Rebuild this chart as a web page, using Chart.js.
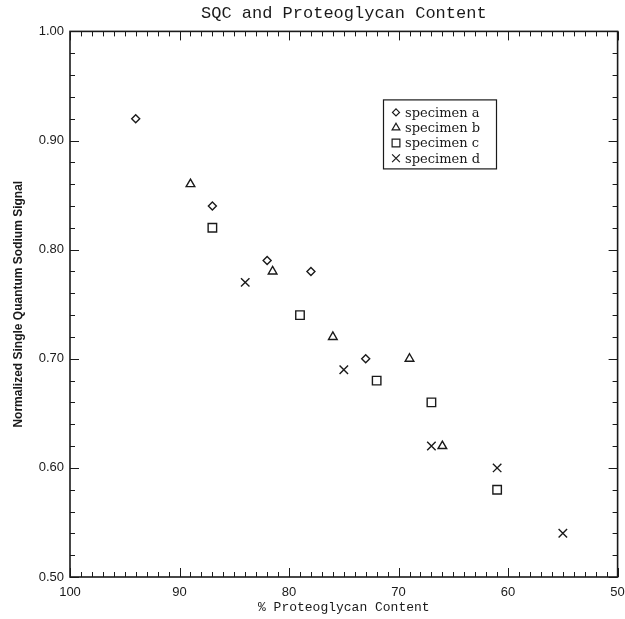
<!DOCTYPE html>
<html>
<head>
<meta charset="utf-8">
<script src="https://cdn.jsdelivr.net/npm/chart.js@4"></script>
<style>
  html, body { margin: 0; padding: 0; background: #fff; }
  #wrap { width: 625px; height: 619px; }
</style>
</head>
<body>
<div id="wrap"><canvas id="sqc" width="625" height="619"></canvas></div>
<script>
// Data: % proteoglycan content vs normalized SQ signal
const specimenA_x = [94, 87, 82, 78, 73];
const specimenA_y = [0.92, 0.84, 0.79, 0.78, 0.70];
const specimenB_x = [89, 81.5, 76, 69, 66];
const specimenB_y = [0.86, 0.78, 0.72, 0.70, 0.62];
const specimenC_x = [87, 79, 72, 67, 61];
const specimenC_y = [0.82, 0.74, 0.68, 0.66, 0.58];
const specimenD_x = [84, 75, 67, 61, 55];
const specimenD_y = [0.77, 0.69, 0.62, 0.60, 0.54];

const xTicks = [100, 90, 80, 70, 60, 50];
const yTicks = [0.50, 0.60, 0.70, 0.80, 0.90, 1.00];

const seriesNames = ['specimen a', 'specimen b', 'specimen c', 'specimen d'];

function toPoints(xs, ys) {
    return xs.map((v, i) => ({ x: v, y: ys[i] }));
}

const ink = '#1a1a1a';

function series(label, xs, ys, style, radius) {
    return {
        label: label,
        data: toPoints(xs, ys),
        pointStyle: style,
        pointRadius: radius,
        pointHoverRadius: radius,
        pointBorderWidth: 1.4,
        borderColor: ink,
        backgroundColor: 'rgba(0,0,0,0)',
        showLine: false
    };
}

/*
*   Box frame with inward major/minor ticks on all four sides
*/
const frameTicks = {
    id: 'frameTicks',
    afterDatasetsDraw(chart) {
        const { ctx, chartArea: a, scales: { x, y } } = chart;
        ctx.save();
        ctx.strokeStyle = ink;
        ctx.lineWidth = 1;
        ctx.beginPath();
        for (let v = 50; v <= 100; v++) {
            const px = Math.round(x.getPixelForValue(v)) + 0.5;
            const len = v % 10 === 0 ? 9 : 5;
            ctx.moveTo(px, a.bottom); ctx.lineTo(px, a.bottom - len);
            ctx.moveTo(px, a.top); ctx.lineTo(px, a.top + len);
        }
        for (let i = 0; i <= 25; i++) {
            const py = Math.round(y.getPixelForValue(0.5 + i * 0.02)) + 0.5;
            const len = i % 5 === 0 ? 9 : 5;
            ctx.moveTo(a.left, py); ctx.lineTo(a.left + len, py);
            ctx.moveTo(a.right, py); ctx.lineTo(a.right - len, py);
        }
        ctx.stroke();
        ctx.lineWidth = 1.6;
        ctx.strokeRect(a.left, a.top, a.right - a.left, a.bottom - a.top);
        ctx.restore();
    }
};

/*
*   Legend box drawn inside the plot, upper right
*/
const boxLegend = {
    id: 'boxLegend',
    afterDatasetsDraw(chart) {
        const { ctx, chartArea: a } = chart;
        const left = a.left + 313, top = a.top + 68;
        const w = 113, h = 69, row = 15.3;
        ctx.save();
        ctx.strokeStyle = ink;
        ctx.lineWidth = 1.2;
        ctx.strokeRect(left + 0.5, top + 0.5, w, h);
        ctx.font = '13px "DejaVu Serif", serif';
        ctx.textBaseline = 'middle';
        chart.data.datasets.forEach((ds, i) => {
            const cy = top + 13 + i * row;
            ctx.fillStyle = 'rgba(0,0,0,0)';
            Chart.helpers.drawPoint(ctx, {
                pointStyle: ds.pointStyle,
                radius: ds.pointRadius - 0.5,
                borderWidth: 1.3,
                rotation: 0
            }, left + 13, cy);
            ctx.fillStyle = ink;
            ctx.fillText(ds.label, left + 22, cy + 1);
        });
        ctx.restore();
    }
};

let ctx = document.getElementById('sqc').getContext('2d');
let chart = new Chart(ctx, {
    type: 'scatter',
    data: {
        datasets: [
            series(seriesNames[0], specimenA_x, specimenA_y, 'rectRot', 4),
            series(seriesNames[1], specimenB_x, specimenB_y, 'triangle', 5),
            series(seriesNames[2], specimenC_x, specimenC_y, 'rect', 6),
            series(seriesNames[3], specimenD_x, specimenD_y, 'crossRot', 6)
        ]
    },
    options: {
        responsive: false,
        animation: false,
        layout: { padding: { left: 0, right: 6, top: 0, bottom: 0 } },
        plugins: {
            legend: { display: false },
            tooltip: { enabled: false },
            title: {
                display: true,
                fullSize: false,
                text: 'SQC and Proteoglycan Content',
                color: ink,
                font: { family: '"Liberation Mono", monospace', size: 17, weight: 'normal', lineHeight: 1.2 },
                padding: { top: 3, bottom: 8 }
            }
        },
        scales: {
            x: {
                type: 'linear',
                reverse: true,
                min: 50,
                max: 100,
                afterBuildTicks: (scale) => { scale.ticks = xTicks.map(v => ({ value: v })); },
                afterFit: (scale) => {
                    scale.height = 42;
                    scale.paddingLeft = 0;
                    scale.paddingRight = 0;
                },
                grid: { display: false, drawTicks: false },
                border: { display: false },
                ticks: {
                    color: ink,
                    padding: 8,
                    font: { family: '"Liberation Sans", sans-serif', size: 13 },
                    callback: (v) => v
                },
                title: {
                    display: true,
                    text: '% Proteoglycan Content',
                    color: ink,
                    font: { family: '"Liberation Mono", monospace', size: 13 },
                    padding: { top: 0, bottom: 4 }
                }
            },
            y: {
                type: 'linear',
                min: 0.5,
                max: 1.0,
                afterBuildTicks: (scale) => { scale.ticks = yTicks.map(v => ({ value: v })); },
                afterFit: (scale) => {
                    scale.width = 70;
                    scale.paddingTop = 0;
                    scale.paddingBottom = 0;
                },
                grid: { display: false, drawTicks: false },
                border: { display: false },
                ticks: {
                    color: ink,
                    padding: 6,
                    font: { family: '"Liberation Sans", sans-serif', size: 13 },
                    callback: (v) => v.toFixed(2)
                },
                title: {
                    display: true,
                    text: 'Normalized Single Quantum Sodium Signal',
                    color: ink,
                    font: { family: '"Liberation Sans", sans-serif', size: 12, weight: 'bold' },
                    padding: { top: 11, bottom: 0 }
                }
            }
        }
    },
    plugins: [frameTicks, boxLegend]
});
</script>
</body>
</html>
